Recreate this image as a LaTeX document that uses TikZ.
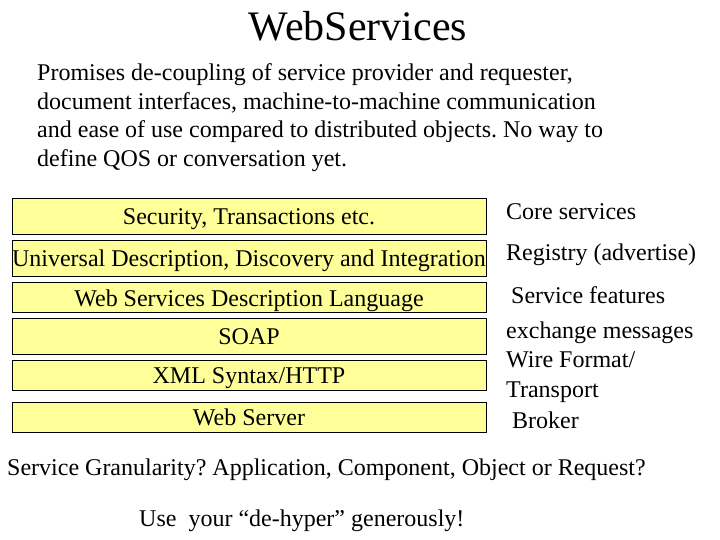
\documentclass[tikz,border=0pt]{standalone}
\usepackage{fontspec}
\setmainfont{Liberation Serif}
\frenchspacing
\definecolor{boxyellow}{HTML}{FFFF99}
\begin{document}
\begin{tikzpicture}[x=1pt,y=-1pt,
  layer/.style={draw=black, line width=1pt, fill=boxyellow, minimum width=474pt,
    inner sep=0pt, text height=19pt, text depth=2pt, font=\fontsize{24}{28}\selectfont},
  txt/.style={anchor=base west, inner sep=0pt, font=\fontsize{24}{28}\selectfont}]
\useasboundingbox (0,0) rectangle (720,540);
\node[anchor=base, inner sep=0pt, font=\fontsize{42}{48}\selectfont] (title) at (358,41) {WebServices};
\node[txt] (p1) at (37,81) {Promises de-coupling of service provider and requester,};
\node[txt] (p2) at (37,109.5) {document interfaces, machine-to-machine communication};
\node[txt] (p3) at (37,138) {and ease of use compared to distributed objects. No way to};
\node[txt] (p4) at (37,167) {define QOS or conversation yet.};
\node[layer, minimum height=36pt] (sec) at (249,216.2) {Security, Transactions etc.};
\node[layer, minimum height=35.5pt] (uddi) at (249,258.3) {Universal Description, Discovery and Integration};
\node[layer, minimum height=29.6pt] (wsdl) at (249,297.5) {Web Services Description Language};
\node[layer, minimum height=36pt] (soap) at (249,336.3) {SOAP};
\node[layer, minimum height=30pt] (xml) at (249,375) {XML Syntax/HTTP};
\node[layer, minimum height=30pt] (web) at (249,417.3) {Web Server};
\node[txt] (l1) at (506,219) {Core services};
\node[txt] (l2) at (506,260) {Registry (advertise)};
\node[txt] (l3) at (511,303) {Service features};
\node[txt] (l4) at (506,338) {exchange messages};
\node[txt] (l5) at (506,367) {Wire Format/};
\node[txt] (l6) at (506,397) {Transport};
\node[txt] (l7) at (512,428) {Broker};
\node[txt] (q) at (7,475.5) {Service Granularity? Application, Component, Object or Request?};
\node[txt] (u) at (139,526.5) {Use\ \ your “de-hyper” generously!};
\end{tikzpicture}
\end{document}
